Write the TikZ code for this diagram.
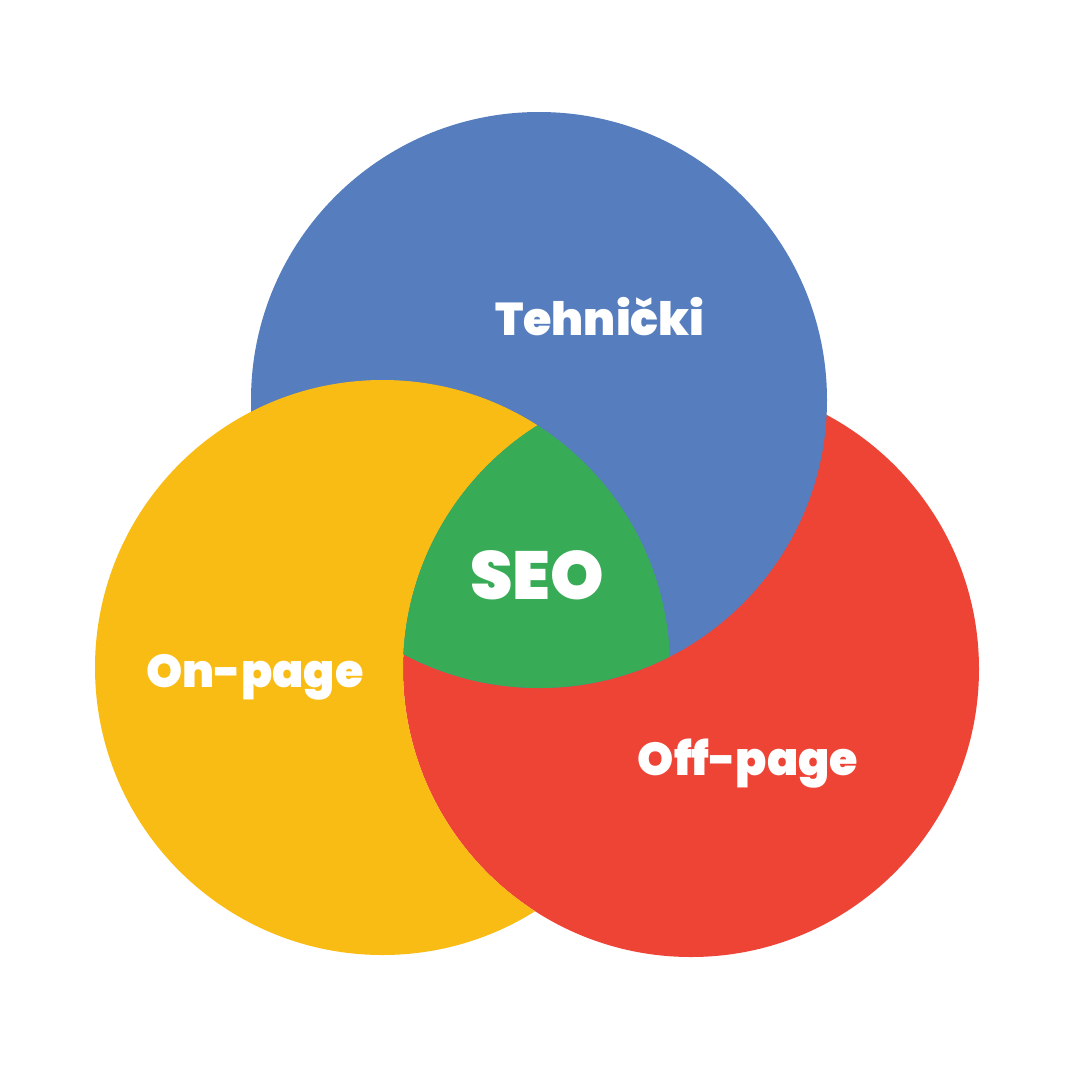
\documentclass[tikz,border=0pt]{standalone}
\usepackage{fontspec}
\setmainfont{Poppins}[BoldFont={Poppins Black}]
\definecolor{cblue}{HTML}{567DBE}
\definecolor{cyellow}{HTML}{F9BC15}
\definecolor{cred}{HTML}{EE4436}
\definecolor{cgreen}{HTML}{37AB55}
\begin{document}
\begin{tikzpicture}[x=1pt,y=-1pt,
  lbl/.style={text=white,font=\bfseries,inner sep=0pt,anchor=base}]
\useasboundingbox (0,0) rectangle (1080,1080);
\fill[white] (0,0) rectangle (1080,1080);
\def\blueC{(539,400) circle (288)}
\def\yelC{(382.5,667.5) circle (287.5)}
\def\redC{(691,669) circle (288)}
\fill[cred] \redC;
\fill[cblue] \blueC;
\begin{scope}[even odd rule]
  \clip (-10,-10) rectangle (1090,1090) \redC;
  \fill[cyellow] \yelC;
\end{scope}
\begin{scope}
  \clip \yelC;
  \clip \redC;
  \fill[cgreen] \blueC;
\end{scope}
\node[lbl,font=\bfseries\fontsize{46}{46}\selectfont] (tech) at (600,335) {Tehnički};
\node[lbl,font=\bfseries\fontsize{68}{68}\selectfont] (seo) at (537,599) {SEO};
\node[lbl,font=\bfseries\fontsize{46}{46}\selectfont] (on) at (255,687) {On-page};
\node[lbl,font=\bfseries\fontsize{46}{46}\selectfont] (off) at (748,775) {Off-page};
\end{tikzpicture}
\end{document}
